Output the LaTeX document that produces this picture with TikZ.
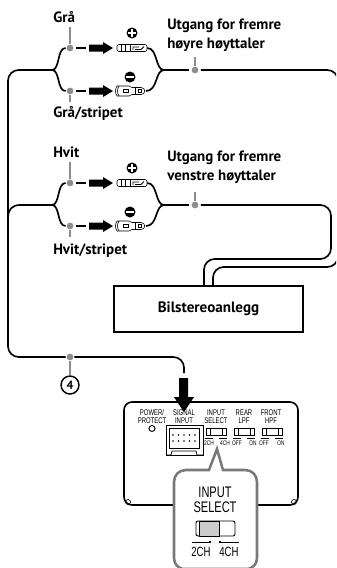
\documentclass[tikz,border=0pt]{standalone}
\usepackage{fontspec}
\setmainfont{PT Sans}
\newfontfamily\devfont[FakeStretch=.72]{Liberation Sans}
\tikzset{
  wire/.style={line width=1.25pt,black,rounded corners=8pt},
  curvewire/.style={line width=1.25pt,black},
  leader/.style={line width=1.7pt,gray!90},
  tap/.style={circle,fill=gray!90,draw=white,line width=.7pt,inner sep=0pt,minimum size=6pt},
  lbl/.style={font=\bfseries\fontsize{11.2}{14.25}\selectfont,anchor=west,inner sep=0pt,align=left},
  bigarrow/.style={fill=black,draw=none},
  devbox/.style={line width=1.2pt,fill=white},
}
\newcommand{\plusconn}[2]{
  \begin{scope}[shift={(#1,#2)},line width=.45pt]
    \draw[fill=white,rounded corners=1.6pt] (1,-3.5) rectangle (31,3.5);
    \draw (5,-3.5)--(5,3.5) (9,-3.5)--(9,3.5) (14,-3.5)--(14,3.5);
    \draw[line width=.7pt] (17,2)--(17,-1)--(23,-1) (19,1.5)--(25,1.5)--(28,-1.5);
  \end{scope}}
\newcommand{\minusconn}[2]{
  \begin{scope}[shift={(#1,#2)},line width=.45pt]
    \draw[fill=white] (2,-5) .. controls (0,-2) and (0,2) .. (2,5) -- (14,5) -- (17,3.5) -- (26,3.5) .. controls (31,3.5) and (31,-3.5) .. (26,-3.5) -- (17,-3.5) -- (14,-5) -- cycle;
    \draw (4,-5) .. controls (2,-2) and (2,2) .. (4,5);
    \draw[line width=.7pt] (8,-1.5) rectangle (13,1) (20,-3.5)--(20,3.5) (23,-2) rectangle (26,1);
  \end{scope}}
\newcommand{\signcirc}[3]{
  \fill (#1,#2) circle (5.5);
  \fill[white] (#1-3.6,#2-1) rectangle (#1+3.6,#2+1);
  \if#3p\fill[white] (#1-1,#2-3.6) rectangle (#1+1,#2+3.6);\fi
}
\newcommand{\hunit}[1]{
  \coordinate (jl) at (52,#1);
  \coordinate (jr) at (164,#1);
  \node[tap] (t#1) at (70,#1-22) {};
  \node[tap] (b#1) at (70,#1+21) {};
  \node[tap] (o#1) at (195,#1) {};
  \draw[curvewire] (jl) .. controls (60,#1) and (57,#1-22) .. (t#1);
  \draw[curvewire] (jl) .. controls (60,#1) and (57,#1+21) .. (b#1);
  \draw[curvewire] (147,#1-22) .. controls (158,#1-22) and (155,#1) .. (jr);
  \draw[curvewire] (146,#1+21) .. controls (158,#1+21) and (155,#1) .. (jr);
  \draw[curvewire,shorten >=1pt] (jr)--(o#1);
  \draw[leader] (t#1)--+(0,-21);
  \draw[leader] (b#1)--+(0,11);
  \draw[leader] (o#1)--+(0,-13);
  \draw[curvewire] (76,#1-22)--(86,#1-22) (76,#1+21)--(86,#1+21);
  \fill (89,#1-25.5)--(103,#1-25.5)--(103,#1-28)--(113,#1-22)--(103,#1-16)--(103,#1-18.5)--(89,#1-18.5)--cycle;
  \fill (89,#1+17.5)--(103,#1+17.5)--(103,#1+15)--(113,#1+21)--(103,#1+27)--(103,#1+24.5)--(89,#1+24.5)--cycle;
  \plusconn{116}{#1-22}
  \minusconn{115}{#1+21}
  \signcirc{132}{#1-37}{p}
  \signcirc{130}{#1+7}{m}
}
\newcommand{\sw}[1]{
  \draw[line width=.6pt] (#1,428) rectangle (#1+20,435.5);
  \draw[line width=.6pt] (#1+4,428)--(#1+4,435.5) (#1+16,428)--(#1+16,435.5);
  \draw[line width=.4pt] (#1-1,438)--(#1+7,438) (#1+13,438)--(#1+21,438);
}
\begin{document}
\begin{tikzpicture}[x=.75pt,y=-.75pt]
\useasboundingbox (0,0) rectangle (336,568);
\clip (0,0) rectangle (336,568);
\hunit{70}
\hunit{205}
\node[lbl] (gra) at (53,17) {Grå};
\node[lbl] (grast) at (53,113) {Grå/stripet};
\node[lbl,anchor=north west] (uh) at (167,19) {Utgang for fremre\\høyre høyttaler};
\node[lbl] (hv) at (53,152) {Hvit};
\node[lbl] (hvst) at (53,251) {Hvit/stripet};
\node[lbl,anchor=north west] (uv) at (167,151) {Utgang for fremre\\venstre høyttaler};
% wires
\coordinate (j1) at (52,70);
\coordinate (j2) at (52,205);
\draw[wire] (j1) -- (8,70) -- (8,357) -- (184,357) -- (184,373);
\draw[curvewire] (j2) -- (20,205) .. controls (12,205) and (8,210) .. (8,217);
\draw[wire,shorten <=1pt] (o70) -- (338,70) -- (338,267) -- (213,267) -- (213,286);
\draw[wire,shorten <=1pt] (o205) -- (331,205) -- (331,259) -- (204,259) -- (204,286);
\node[draw,line width=1.25pt,fill=white,minimum width=141.75pt,minimum height=34.5pt,font=\bfseries\fontsize{11.3}{13}\selectfont,inner sep=0pt] (stereo) at (208.5,309) {Bilstereoanlegg};
\node[tap] (t4) at (70,357) {};
\draw[leader] (t4)--(70,375);
\node[circle,draw,line width=1.1pt,fill=white,inner sep=0pt,minimum size=13.5pt,font=\bfseries\fontsize{9}{9}\selectfont] (c4) at (70,385) {4};
% device
\draw[devbox,rounded corners=6pt] (124,402) rectangle (298,505);
\draw[line width=.5pt] (128,502) circle (2.5) (294,502) circle (2.5);
\tikzset{dev/.style={font=\devfont\fontsize{6.2}{6}\selectfont,inner sep=0pt,align=center}}
\node[dev] (p1) at (152,417) {POWER/\\PROTECT};
\node[dev] (p2) at (184,417) {SIGNAL\\INPUT};
\node[dev] (p3) at (216,417) {INPUT\\SELECT};
\node[dev] (p4) at (244,417) {REAR\\LPF};
\node[dev] (p5) at (271,417) {FRONT\\HPF};
\fill[bigarrow] (179,378)--(188,378)--(188,397)--(194,397)--(184,412)--(174,397)--(179,397)--cycle;
\draw[line width=.7pt] (152,428.5) circle (3);
\draw[line width=.7pt] (166,425) rectangle (203,455);
\draw[line width=.7pt] (169,428) rectangle (199,448);
\draw[line width=.6pt] (166,455)--(171,455)--(172,451)--(196,451)--(197,455)--(203,455);
\foreach \y in {435,441}\foreach \x in {173,178.5,184,189.5,195}\fill (\x,\y) circle (.8);
\sw{206} \sw{234} \sw{262}
\tikzset{dev2/.style={font=\devfont\fontsize{5}{5}\selectfont,inner sep=0pt}}
\node[dev2] (a1) at (209,443.5) {2CH}; \node[dev2] (a2) at (225,443.5) {4CH};
\node[dev2] (a3) at (237,443.5) {OFF}; \node[dev2] (a4) at (253,443.5) {ON};
\node[dev2] (a5) at (264,443.5) {OFF}; \node[dev2] (a6) at (281,443.5) {ON};
% callout
\draw[line width=1.9pt,gray!95!black,fill=white] (174,558) -- (174,482) .. controls (174,475) and (179,470) .. (186,470) -- (209,470) -- (217,449) -- (223,470) -- (245,470) .. controls (252,470) and (257,475) .. (257,482) -- (257,558) .. controls (257,564) and (253,568) .. (248,569) -- (183,569) .. controls (178,568) and (174,564) .. cycle;
\tikzset{dev3/.style={font=\devfont\fontsize{11.5}{11.25}\selectfont,inner sep=0pt,align=center}}
\node[dev3] (c1) at (215,499.5) {INPUT\\SELECT};
\draw[line width=.7pt,rounded corners=1.5pt] (196,521) rectangle (235,536);
\draw[line width=.7pt,fill=gray!40] (199,521) rectangle (219,536);
\draw[line width=.5pt] (192,542)--(211,542) (219,542)--(239,542);
\fill (209,540.5) rectangle (211,542); \fill (219,540.5) rectangle (221,542);
\node[font=\devfont\fontsize{10}{11}\selectfont,inner sep=0pt] (l2) at (201,551.5) {2CH};
\node[font=\devfont\fontsize{10}{11}\selectfont,inner sep=0pt] (l4) at (229,551.5) {4CH};
\end{tikzpicture}
\end{document}
